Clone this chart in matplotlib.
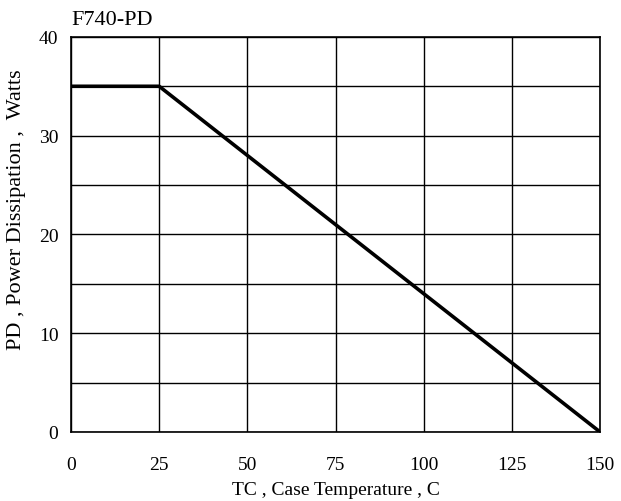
import matplotlib.pyplot as plt
import numpy as np

# derating curve
tc = [0, 25, 150]
pd_watts = [35, 35, 0]
x_ticks = [0, 25, 50, 75, 100, 125, 150]
y_ticks = [0, 10, 20, 30, 40]

plt.rcParams['font.family'] = ['Liberation Serif', 'DejaVu Serif']

fig = plt.figure(figsize=(6.21, 5.02), dpi=100)
ax = fig.add_axes([0.1143, 0.1375, 0.852, 0.787])

ax.plot(tc, pd_watts, color='black', lw=2.6, solid_capstyle='butt', zorder=3)

ax.set_xlim(0, 150)
ax.set_ylim(0, 40)
ax.set_xticks(x_ticks)
ax.set_yticks(y_ticks)
ax.set_yticks(np.arange(0, 41, 5), minor=True)
ax.grid(True, which='both', color='black', lw=1.0)
ax.tick_params(which='both', length=0, labelsize=14)
ax.tick_params(axis='x', pad=17)
ax.tick_params(axis='y', pad=9)
for s in ax.spines.values():
    s.set_linewidth(1.2)

ax.set_xlabel('TC , Case Temperature , C', fontsize=14, labelpad=6)
ax.set_ylabel('PD , Power Dissipation ,  Watts', fontsize=16)
ax.yaxis.set_label_coords(-0.085, 0.565)
ax.set_title('F740-PD', loc='left', fontsize=16, pad=9)

fig.savefig('out.png', dpi=100)
plt.close(fig)
